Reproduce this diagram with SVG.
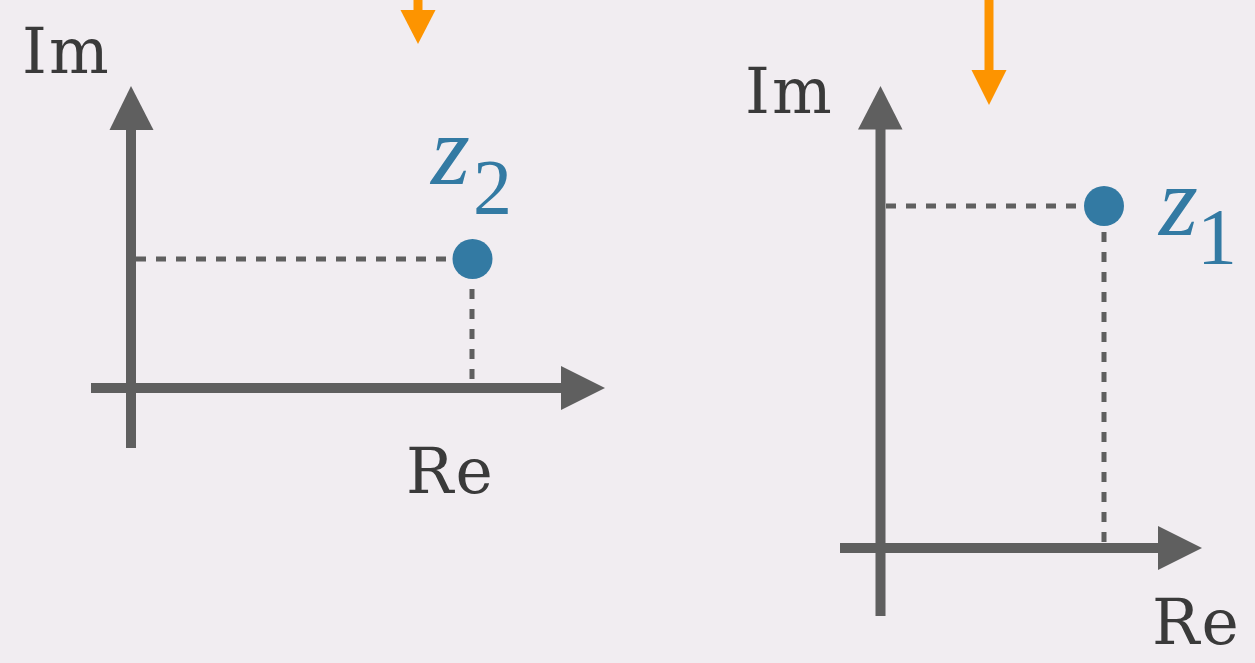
<svg xmlns="http://www.w3.org/2000/svg" width="1255" height="663" viewBox="0 0 1255 663">
<style>
.axis{stroke:#5f5f5f;stroke-width:10;fill:none}
.head{fill:#5f5f5f}
.dash{stroke:#5f5f5f;stroke-width:5;stroke-dasharray:10 10;fill:none}
.lbl{font-size:63px;letter-spacing:2px;fill:#3a3a3a}
.pt{fill:#337aa3}
.z{fill:#337aa3}
.orange{stroke:#fd9400;stroke-width:9;fill:none}
.ohead{fill:#fd9400}
</style>
<rect width="1255" height="663" fill="#f1edf1"/>
<g id="plot-left">
<line class="axis" x1="131" y1="448" x2="131" y2="125"/>
<polygon class="head" points="131,86 109.5,130 153.5,130"/>
<line class="axis" x1="91" y1="388" x2="565" y2="388"/>
<polygon class="head" points="605,388 561,366 561,410"/>
<text class="lbl" font-family="'DejaVu Serif', 'Liberation Serif', serif" x="22" y="73">Im</text>
<text class="lbl" font-family="'DejaVu Serif', 'Liberation Serif', serif" x="406" y="493">Re</text>
</g>
<g id="plot-right">
<line class="axis" x1="880.5" y1="616" x2="880.5" y2="125"/>
<polygon class="head" points="880.5,86 858,129.5 902.5,129.5"/>
<line class="axis" x1="840" y1="548" x2="1162" y2="548"/>
<polygon class="head" points="1202,548 1158,526 1158,570"/>
<text class="lbl" font-family="'DejaVu Serif', 'Liberation Serif', serif" x="745" y="113">Im</text>
<text class="lbl" font-family="'DejaVu Serif', 'Liberation Serif', serif" x="1152" y="644">Re</text>
</g>
<g id="connectors">
<line class="dash" x1="136" y1="259" x2="450" y2="259"/>
<line class="dash" x1="472" y1="289" x2="472" y2="383"/>
<line class="dash" x1="886" y1="206" x2="1084" y2="206"/>
<line class="dash" x1="1104" y1="232" x2="1104" y2="543"/>
<line class="orange" x1="418" y1="0" x2="418" y2="12"/>
<polygon class="ohead" points="418,44 400.5,10 435.5,10"/>
<line class="orange" x1="989" y1="0" x2="989" y2="72"/>
<polygon class="ohead" points="989,105 971.5,70 1006.5,70"/>
</g>
<g id="z2">
<circle class="pt" cx="472.5" cy="259" r="20"/>
<text class="z" font-family="'Liberation Serif', 'Times New Roman', serif" x="431" y="184" font-size="100" font-style="italic">z</text>
<text class="z" font-family="'Liberation Serif', 'Times New Roman', serif" x="473" y="213" font-size="78">2</text>
</g>
<g id="z1">
<circle class="pt" cx="1104" cy="206" r="20"/>
<text class="z" font-family="'Liberation Serif', 'Times New Roman', serif" x="1159" y="235" font-size="100" font-style="italic">z</text>
<text class="z" font-family="'Liberation Serif', 'Times New Roman', serif" x="1197" y="264" font-size="80">1</text>
</g>
</svg>
